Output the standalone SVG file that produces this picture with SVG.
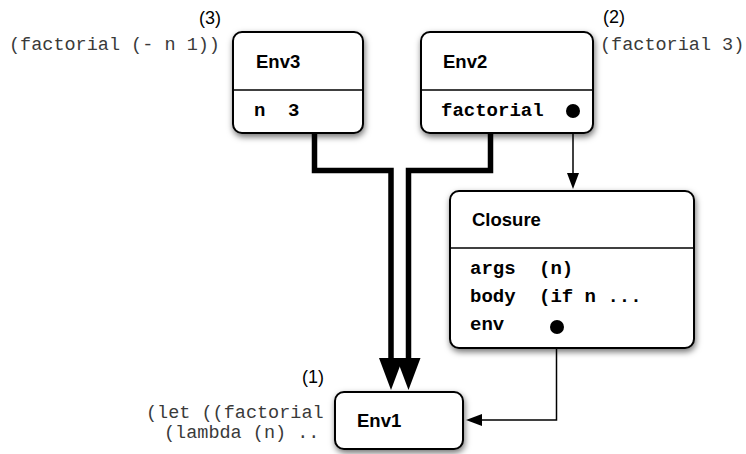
<svg xmlns="http://www.w3.org/2000/svg" width="746" height="454" viewBox="0 0 746 454">
<style>
.box{fill:#fff;stroke:#000;stroke-width:2;filter:url(#sh)}
.div{stroke:#000;stroke-width:1.5}
.title{font-family:"Liberation Sans",Arial,sans-serif;font-weight:bold;font-size:18.5px;fill:#000}
.lab{font-family:"Liberation Sans",Arial,sans-serif;font-size:18px;fill:#000}
.code{font-family:"Liberation Mono","Courier New",monospace;font-size:18.5px;fill:#3a3a3a}
.field{font-family:"Liberation Mono","Courier New",monospace;font-weight:bold;font-size:19px;fill:#000}
.thick{fill:none;stroke:#000;stroke-width:5.5;stroke-linejoin:miter}
.thin{fill:none;stroke:#000;stroke-width:1.5}
</style>
<defs>
<filter id="sh" x="-20%" y="-20%" width="140%" height="150%">
<feDropShadow dx="1" dy="3" stdDeviation="3" flood-color="#000" flood-opacity="0.55"/>
</filter>
</defs>

<g id="labels">
<text class="lab" x="199" y="24">(3)</text>
<text class="code" x="9" y="50">(factorial (- n 1))</text>
<text class="lab" x="603" y="23">(2)</text>
<text class="code" x="600" y="50">(factorial 3)</text>
<text class="lab" x="302" y="383">(1)</text>
<text class="code" x="146" y="418">(let ((factorial</text>
<text class="code" x="164" y="438">(lambda (n) ..</text>
</g>

<g id="connectors">
<path class="thick" d="M314.5,133 V170.5 H391 V362"/>
<path class="thick" d="M490.5,133 V170.5 H408.5 V362"/>
<path d="M379,358 L403,358 L391,390 Z" fill="#000"/>
<path d="M396.5,358 L420.5,358 L408.5,390 Z" fill="#000"/>
<path class="thin" d="M573,112 V178"/>
<path d="M567,173 L579,173 L573,189 Z" fill="#000"/>
<path class="thin" d="M556.5,327 V420 H478"/>
<path d="M482,414 L482,426 L466,420 Z" fill="#000"/>
</g>

<g id="env3">
<rect class="box" x="233" y="32" width="130" height="101" rx="9"/>
<line class="div" x1="233" y1="90" x2="363" y2="90"/>
<text class="title" x="256" y="68">Env3</text>
<text class="field" x="254" y="116">n</text>
<text class="field" x="288" y="116">3</text>
</g>

<g id="env2">
<rect class="box" x="421" y="32" width="172" height="101" rx="9"/>
<line class="div" x1="421" y1="90" x2="593" y2="90"/>
<text class="title" x="443" y="68">Env2</text>
<text class="field" x="441" y="116">factorial</text>
<circle cx="573" cy="111" r="7" fill="#000"/>
</g>

<g id="closure">
<rect class="box" x="450" y="191" width="244" height="157" rx="9"/>
<line class="div" x1="450" y1="248" x2="694" y2="248"/>
<text class="title" x="472" y="226">Closure</text>
<text class="field" x="470" y="274">args</text>
<text class="field" x="539" y="274">(n)</text>
<text class="field" x="470" y="302">body</text>
<text class="field" x="539" y="302">(if n ...</text>
<text class="field" x="470" y="330">env</text>
<circle cx="557" cy="327" r="7" fill="#000"/>
</g>

<g id="env1">
<rect class="box" x="335" y="392" width="128" height="57" rx="9"/>
<text class="title" x="357" y="427">Env1</text>
</g>
</svg>
